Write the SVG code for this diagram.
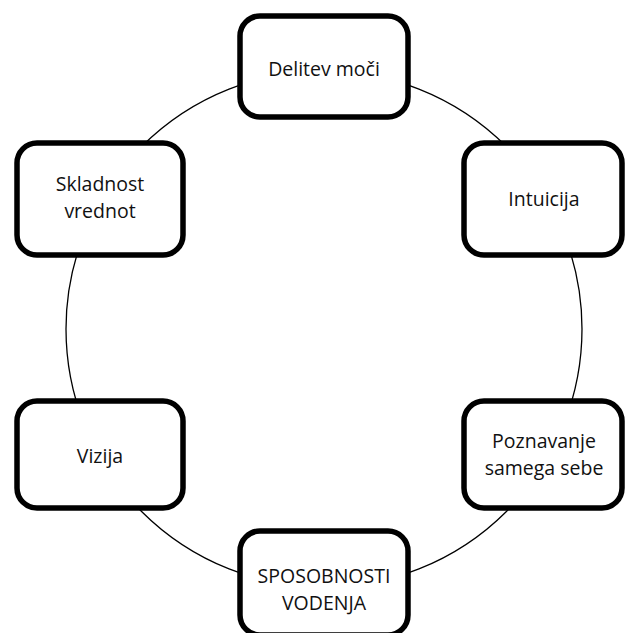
<svg xmlns="http://www.w3.org/2000/svg" width="626" height="633" viewBox="0 0 626 633">
<style>
.box{fill:#fff;stroke:#000;stroke-width:5.5}
.t{font-family:"Open Sans","Liberation Sans",sans-serif;font-size:19.5px;fill:#111;text-anchor:middle}
.c{fill:none;stroke:#000;stroke-width:1.3}
</style>
<rect width="626" height="633" fill="#fff"/>
<g id="connectors"><circle class="c" cx="324" cy="329" r="258"/></g>
<g id="n1"><rect class="box" x="240" y="16" width="168" height="101" rx="20"/><text class="t" x="324" y="76">Delitev moči</text></g>
<g id="n2"><rect class="box" x="464" y="143" width="158" height="112" rx="20"/><text class="t" x="544" y="206">Intuicija</text></g>
<g id="n3"><rect class="box" x="464" y="401" width="158" height="107" rx="20"/><text class="t" x="544" y="448">Poznavanje</text><text class="t" x="544" y="475">samega sebe</text></g>
<g id="n4"><rect class="box" x="240" y="531" width="168" height="104" rx="20"/><text class="t" x="324" y="583">SPOSOBNOSTI</text><text class="t" x="324" y="610">VODENJA</text></g>
<g id="n5"><rect class="box" x="17" y="401" width="166" height="107" rx="20"/><text class="t" x="100" y="463">Vizija</text></g>
<g id="n6"><rect class="box" x="17" y="143" width="166" height="112" rx="20"/><text class="t" x="100" y="191">Skladnost</text><text class="t" x="100" y="218">vrednot</text></g>
</svg>
